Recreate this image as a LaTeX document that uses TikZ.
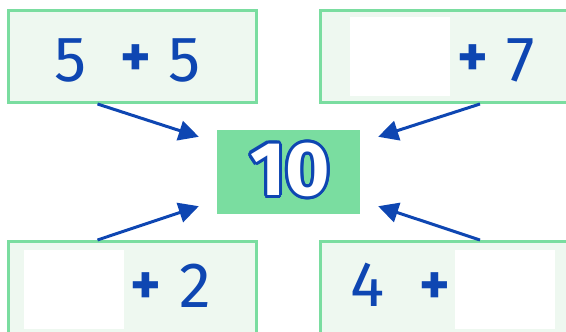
\documentclass[tikz,border=0pt]{standalone}
\usepackage{fontspec}
\setmainfont{Fira Sans}
\usepackage{xcolor}
\usepackage{contour}
\usetikzlibrary{arrows.meta,positioning,calc}
\definecolor{sumBlue}{RGB}{14,70,178}
\definecolor{sumGreen}{RGB}{122,221,160}
\definecolor{sumPale}{RGB}{238,248,240}
\contourlength{3pt}

\begin{document}
\begin{tikzpicture}[
    x=1pt, y=-1pt,
    sumbox/.style={rectangle, draw=sumGreen, line width=3pt, fill=sumPale, minimum width=248pt, minimum height=92pt, inner sep=0pt},
    blank/.style={rectangle, fill=white, minimum width=100pt, minimum height=79pt, inner sep=0pt},
    digit/.style={text=sumBlue, font=\fontsize{64}{64}\selectfont, inner sep=0pt},
    plus/.style={text=sumBlue, font=\fontsize{58}{58}\selectfont\bfseries, inner sep=0pt},
    arrow/.style={-{Triangle[length=20pt,width=20pt]}, line width=3pt, draw=sumBlue}
]
    \useasboundingbox (0,0) rectangle (566,332);
    \clip (0,0) rectangle (566,332);

    % Result
    \node[rectangle, fill=sumGreen, minimum width=143pt, minimum height=84pt] (ten) at (288.5,172) {};
    \node[text=white, font=\fontsize{76}{76}\selectfont\bfseries, inner sep=0pt] (tenlabel) at (290,171.5) {\contour{sumBlue}{10}};

    % Sum boxes
    \node[sumbox] (tl) at (132.5,56.5) {};
    \node[sumbox] (tr) at (444,56.5) {};
    \node[sumbox] (bl) at (132.5,287.5) {};
    \node[sumbox] (br) at (444,287.5) {};

    % Blanks
    \node[blank] (trgap) at (400,56.5) {};
    \node[blank] (blgap) at (74,289.5) {};
    \node[blank] (brgap) at (505,289.5) {};

    % Top left: 5 + 5
    \node[digit] (tlfirst) at (71,60) {5};
    \node[plus] (tlplus) at (136,61) {+};
    \node[digit] (tlsecond) at (185,60) {5};

    % Top right: ? + 7
    \node[plus] (trplus) at (473,61) {+};
    \node[digit] (trsecond) at (521,60) {7};

    % Bottom left: ? + 2
    \node[plus] (blplus) at (146,289) {+};
    \node[digit] (blsecond) at (195,286) {2};

    % Bottom right: 4 + ?
    \node[digit] (brfirst) at (368,285) {4};
    \node[plus] (brplus) at (435,289) {+};

    % Arrows
    \draw[arrow] ([xshift=-35pt]tl.south) -- ([xshift=-18pt,yshift=-7pt]ten.north west);
    \draw[arrow] ([xshift=36pt]tr.south) -- ([xshift=18pt,yshift=-7pt]ten.north east);
    \draw[arrow] ([xshift=-35pt]bl.north) -- ([xshift=-18pt,yshift=8pt]ten.south west);
    \draw[arrow] ([xshift=36pt]br.north) -- ([xshift=18pt,yshift=8pt]ten.south east);
\end{tikzpicture}
\end{document}
